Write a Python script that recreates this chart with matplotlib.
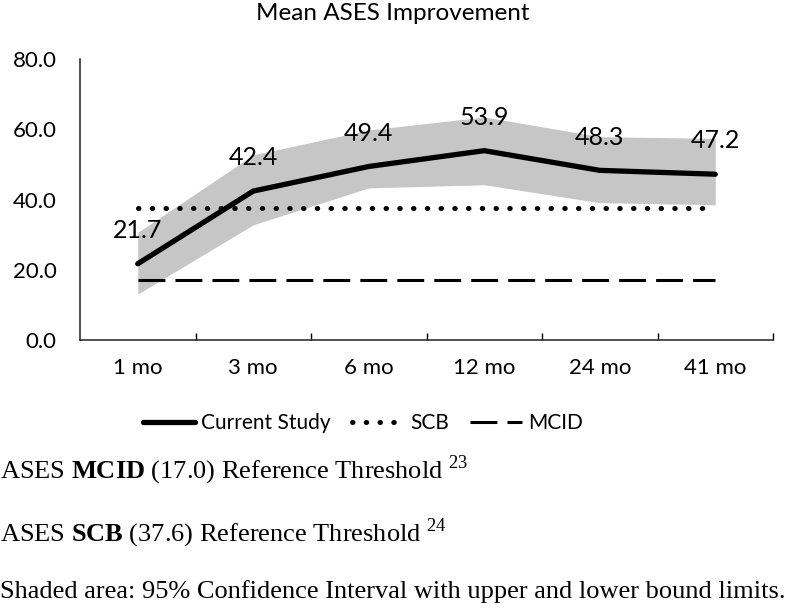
import matplotlib
matplotlib.use("Agg")
import matplotlib.pyplot as plt
from matplotlib.lines import Line2D

plt.rcParams['font.family'] = ['Lato', 'DejaVu Sans']
plt.rcParams['mathtext.fontset'] = 'custom'
plt.rcParams['mathtext.rm'] = 'Liberation Serif'
plt.rcParams['mathtext.bf'] = 'Liberation Serif:bold'

# data
months = ['1 mo', '3 mo', '6 mo', '12 mo', '24 mo', '41 mo']
mean_ases = [21.7, 42.4, 49.4, 53.9, 48.3, 47.2]
ci_upper = [30.6, 52.7, 59.8, 63.5, 57.9, 57.4]
ci_lower = [13.1, 32.8, 43.3, 44.2, 39.1, 38.5]
scb = 37.6
mcid = 17.0
y_ticks = [0, 20, 40, 60, 80]

DOTTED = (0, (0.1, 2.65))
DASHED = (0, (8.8, 3.3))

fig = plt.figure(figsize=(7.91, 6.14), dpi=100)
ax = fig.add_axes([80/791, 274/614, 693/791, 281/614])

x = list(range(len(months)))
ax.fill_between(x, ci_lower, ci_upper, color='#c6c6c6', lw=0, zorder=1)
ax.plot(x, [scb]*len(x), color='black', lw=3.6, linestyle=DOTTED,
        dash_capstyle='round', zorder=2)
ax.plot(x, [mcid]*len(x), color='black', lw=2.2, linestyle=DASHED,
        dash_capstyle='butt', zorder=2)
ax.plot(x, mean_ases, color='black', lw=3.8, solid_capstyle='round',
        solid_joinstyle='miter', zorder=3)

for xi, v in zip(x, mean_ases):
    ax.annotate(f'{v:.1f}', (xi, v), xytext=(0, 24), textcoords='offset points',
                ha='center', va='center', fontsize=18)

ax.set_xlim(-0.5, len(months) - 0.5)
ax.set_ylim(0, 80)
ax.set_yticks(y_ticks)
ax.set_yticklabels([f'{t:.1f}' for t in y_ticks], fontsize=16)
ax.set_xticks(x)
ax.set_xticklabels(months, fontsize=16)
ax.set_xticks([i + 0.5 for i in x], minor=True)
ax.set_yticks([80], minor=True)
ax.tick_params(axis='x', which='major', length=0, pad=13)
ax.tick_params(axis='x', which='minor', direction='in', length=5, width=1)
ax.tick_params(axis='y', which='major', length=0, pad=17)
ax.tick_params(axis='y', which='minor', direction='in', length=5, width=1)

for s in ['top', 'right']:
    ax.spines[s].set_visible(False)
for s in ['left', 'bottom']:
    ax.spines[s].set_linewidth(1.1)
    ax.spines[s].set_color('#222222')

fig.text(393/791, 1 - 14/614, 'Mean ASES Improvement', ha='center', va='center', fontsize=17.5)

handles = [
    Line2D([], [], color='black', lw=3.8, solid_capstyle='round'),
    Line2D([], [], color='black', lw=3.6, linestyle=DOTTED, dash_capstyle='round'),
    Line2D([], [], color='black', lw=2.2, linestyle=DASHED),
]
fig.legend(handles, ['Current Study', 'SCB', 'MCID'], loc='center',
           bbox_to_anchor=(363/791, 1 - 423/614), ncol=3, frameon=False,
           fontsize=15, handlelength=2.5, handletextpad=0.3, columnspacing=1.0)

fig.text(0, 1 - 470/614, r'ASES $\mathbf{MCID}$ (17.0) Reference Threshold $^{23}$',
         ha='left', va='center', fontsize=19, family='Liberation Serif')
fig.text(0, 1 - 533/614, r'ASES $\mathbf{SCB}$ (37.6) Reference Threshold $^{24}$',
         ha='left', va='center', fontsize=19, family='Liberation Serif')
fig.text(0, 1 - 592/614, 'Shaded area: 95% Confidence Interval with upper and lower bound limits.',
         ha='left', va='center', fontsize=19, family='Liberation Serif')

fig.savefig('out.png', dpi=100)
